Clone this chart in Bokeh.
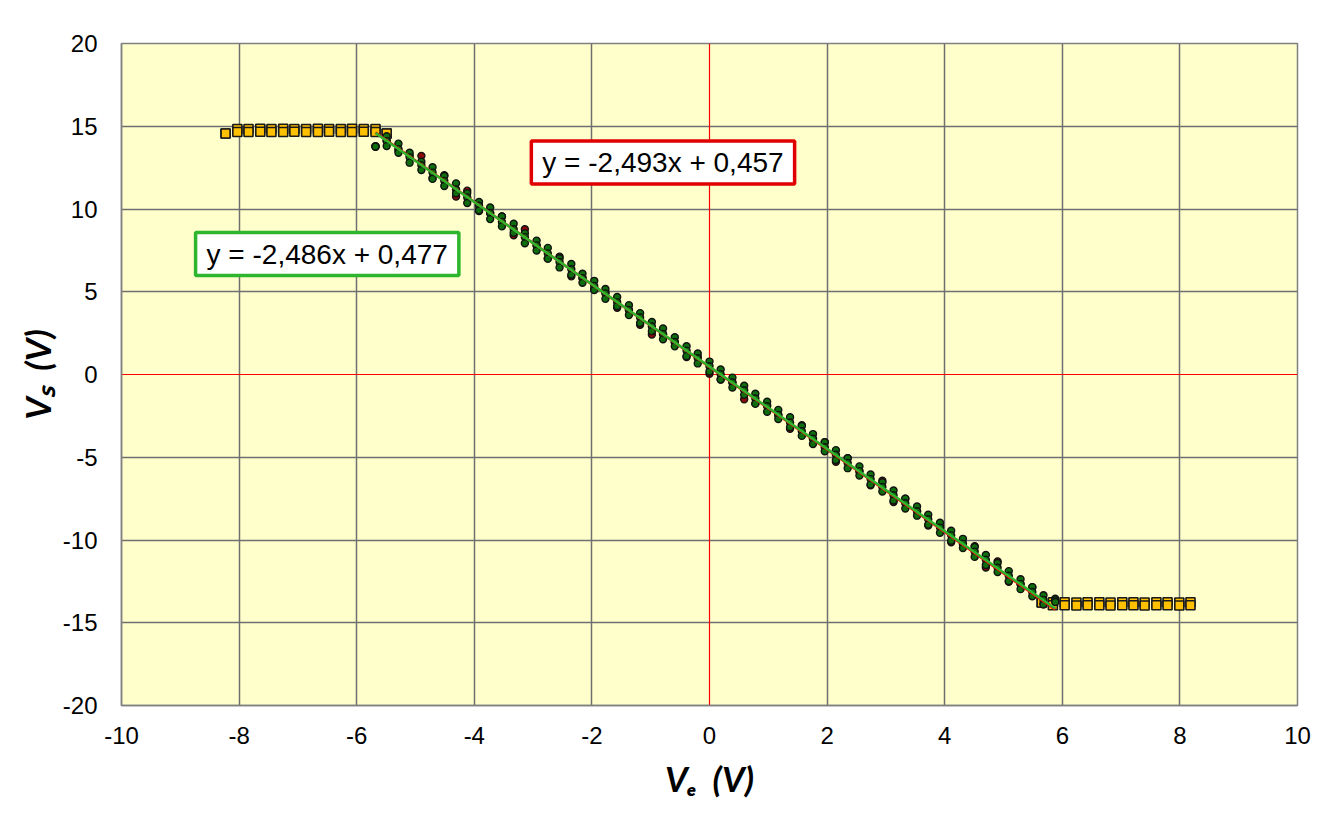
from bokeh.plotting import figure
from bokeh.models import Range1d, FixedTicker, Label, Span
from bokeh.embed import file_html
from bokeh.resources import INLINE

# ---------------- data ----------------
x_ticks = [-10, -8, -6, -4, -2, 0, 2, 4, 6, 8, 10]
y_ticks = [-20, -15, -10, -5, 0, 5, 10, 15, 20]
x_title = "V\u2091\u00a0\u00a0(V)"
y_title = "V\u209b\u00a0\u00a0(V)"

# saturated output (left, Vs ~ +14.7 V)
sat_left_x = [-8.23, -8.03, -7.84, -7.64, -7.45, -7.25, -7.06, -6.86, -6.66, -6.47, -6.27, -6.08, -5.88, -5.68, -5.49]
sat_left_y_a = [14.56, 14.83, 14.83, 14.85, 14.83, 14.85, 14.83, 14.83, 14.85, 14.83, 14.83, 14.85, 14.83, 14.83, 14.56]
sat_left_y_b = [14.56, 14.65, 14.65, 14.67, 14.65, 14.65, 14.67, 14.65, 14.65, 14.67, 14.65, 14.65, 14.67, 14.65, 14.56]

# saturated output (right, Vs ~ -13.9 V)
sat_right_x = [5.65, 5.84, 6.04, 6.24, 6.43, 6.63, 6.82, 7.02, 7.21, 7.40, 7.60, 7.79, 7.99, 8.18]
sat_right_y_a = [-13.78, -13.76, -13.76, -13.78, -13.76, -13.76, -13.78, -13.76, -13.76, -13.78, -13.76, -13.76, -13.78, -13.76]
sat_right_y_b = [-13.78, -13.94, -13.94, -13.96, -13.94, -13.94, -13.96, -13.94, -13.94, -13.96, -13.94, -13.94, -13.96, -13.94]

# linear region
lin_x = [-5.68, -5.49, -5.29, -5.10, -4.90, -4.71, -4.51, -4.31, -4.12, -3.92, -3.73, -3.53, -3.33, -3.14,
         -2.94, -2.75, -2.55, -2.35, -2.16, -1.96, -1.77, -1.57, -1.37, -1.18, -0.98, -0.79, -0.59, -0.39,
         -0.20, 0.00, 0.19, 0.39, 0.59, 0.78, 0.98, 1.17, 1.37, 1.57, 1.76, 1.96, 2.15, 2.35, 2.55, 2.74,
         2.94, 3.13, 3.33, 3.53, 3.72, 3.92, 4.11, 4.31, 4.51, 4.70, 4.90, 5.09, 5.29, 5.49, 5.68, 5.88]
green_hi = [13.78, 14.40, 13.95, 13.40, 12.86, 12.52, 11.99, 11.55, 10.96, 10.42, 10.09, 9.55, 9.11, 8.53,
            8.09, 7.65, 7.02, 6.68, 6.09, 5.66, 5.17, 4.68, 4.19, 3.71, 3.17, 2.78, 2.25, 1.71,
            1.27, 0.78, 0.30, -0.19, -0.68, -1.16, -1.65, -2.14, -2.58, -3.11, -3.60, -4.09, -4.57, -5.06,
            -5.55, -6.04, -6.52, -7.01, -7.50, -7.98, -8.47, -8.96, -9.44, -9.93, -10.42, -10.91, -11.39,
            -11.88, -12.37, -12.85, -13.34, -13.55]
green_mid = [13.78, 14.10, 13.62, 13.12, 12.64, 12.20, 11.70, 11.18, 10.70, 10.20, 9.76, 9.22, 8.78, 8.30,
             7.80, 7.32, 6.80, 6.36, 5.82, 5.35, 4.90, 4.36, 3.90, 3.44, 2.90, 2.45, 1.96, 1.44,
             0.98, 0.50, 0.02, -0.48, -0.95, -1.45, -1.92, -2.44, -2.90, -3.43, -3.88, -4.40, -4.85, -5.35,
             -5.84, -6.32, -6.80, -7.30, -7.78, -8.26, -8.75, -9.25, -9.72, -10.22, -10.70, -11.20, -11.68,
             -12.16, -12.65, -13.14, -13.62, -13.65]
green_lo = [13.78, 13.80, 13.40, 12.80, 12.36, 11.82, 11.39, 10.95, 10.36, 9.92, 9.39, 8.95, 8.56, 7.93,
            7.49, 7.00, 6.47, 6.03, 5.54, 5.11, 4.57, 4.13, 3.59, 3.11, 2.62, 2.13, 1.70, 1.11,
            0.67, 0.18, -0.30, -0.79, -1.23, -1.76, -2.25, -2.69, -3.18, -3.71, -4.20, -4.64, -5.17, -5.66,
            -6.10, -6.64, -7.07, -7.61, -8.10, -8.53, -9.07, -9.56, -10.04, -10.48, -11.02, -11.51, -11.94,
            -12.48, -12.97, -13.40, -13.90, -13.75]
red_pts = [13.78, 14.12, 13.53, 13.25, 13.21, 11.87, 12.04, 10.75, 11.11, 9.87, 9.74, 9.55, 8.41, 8.78,
           7.79, 7.00, 7.12, 5.93, 5.84, 5.16, 4.97, 4.03, 3.89, 3.01, 2.42, 2.43, 1.95, 1.06,
           1.07, 0.05, -0.30, -0.49, -1.50, -1.76, -1.85, -2.44, -3.28, -3.06, -3.90, -4.09, -5.27, -5.06,
           -5.85, -6.69, -6.42, -7.71, -7.50, -8.28, -9.12, -9.16, -10.14, -10.23, -10.37, -11.66, -11.29,
           -12.53, -12.67, -12.85, -13.84, -13.70]

# linear trend lines (coefficients from the chart labels)
fit_x = [-5.68, 5.88]
red_slope, red_icpt = -2.493, 0.457
green_slope, green_icpt = -2.486, 0.477
red_fit_y = [red_slope * v + red_icpt for v in fit_x]
green_fit_y = [green_slope * v + green_icpt for v in fit_x]

# ---------------- figure ----------------
p = figure(width=1324, height=801, output_backend="svg", toolbar_location=None,
           x_range=Range1d(-10, 10), y_range=Range1d(-20, 20),
           min_border_left=121, min_border_right=27, min_border_top=43, min_border_bottom=96)
p.background_fill_color = "#FFFFCC"
p.border_fill_color = "white"
p.outline_line_color = "#808080"
p.outline_line_width = 1.5

for ax, ticks in ((p.xaxis, x_ticks), (p.yaxis, y_ticks)):
    ax.ticker = FixedTicker(ticks=ticks)
    ax.major_label_overrides = {t: str(t) for t in ticks}
    ax.minor_tick_line_color = None
    ax.major_tick_in = 0
    ax.major_tick_out = 0
    ax.axis_line_color = "#808080"
    ax.axis_line_width = 1.5
    ax.major_label_text_font = "Liberation Sans"
    ax.major_label_text_font_size = "24px"
    ax.major_label_text_color = "black"
    ax.axis_label_text_font = "Lato"
    ax.axis_label_text_font_style = "bold italic"
    ax.axis_label_text_font_size = "35px"
    ax.axis_label_text_color = "black"
p.xaxis.major_label_standoff = 21
p.yaxis.major_label_standoff = 24
p.xaxis.axis_label = x_title
p.yaxis.axis_label = y_title
p.xaxis.axis_label_standoff = 10
p.yaxis.axis_label_standoff = 2

# grid lines (the zero lines are drawn in red below)
p.xgrid.ticker = FixedTicker(ticks=[t for t in x_ticks if t != 0])
p.ygrid.ticker = FixedTicker(ticks=[t for t in y_ticks if t != 0])
p.grid.grid_line_color = "#6F6F6F"
p.grid.grid_line_width = 1.5

p.add_layout(Span(location=0, dimension="height", line_color="#FF0000", line_width=1.2, level="underlay"))
p.add_layout(Span(location=0, dimension="width", line_color="#FF0000", line_width=1.2, level="underlay"))

# saturated squares
for xs, ys in ((sat_left_x, sat_left_y_a), (sat_left_x, sat_left_y_b),
               (sat_right_x, sat_right_y_a), (sat_right_x, sat_right_y_b)):
    p.scatter(x=xs, y=ys, marker="square", size=9, fill_color="#FFC000",
              line_color="#1A1A1A", line_width=1.6)

# linear region points
p.scatter(x=lin_x, y=red_pts, marker="circle", size=7, fill_color="#8B0A0A",
          line_color="#111111", line_width=1.4)
for ys in (green_hi, green_mid, green_lo):
    p.scatter(x=lin_x, y=ys, marker="circle", size=7, fill_color="#0E6E0E",
              line_color="#111111", line_width=1.4)

# trend lines
p.line(fit_x, red_fit_y, line_color="#FF0000", line_width=2.5)
p.line(fit_x, green_fit_y, line_color="#2EB52E", line_width=2.5)

# equation boxes
pad = dict(left=11, right=11, top=6, bottom=6)
p.add_layout(Label(x=-3.03, y=12.81, text="y = -2,493x + 0,457", text_font="Liberation Sans",
                   text_font_size="28px", text_color="black", text_align="left", text_baseline="middle",
                   background_fill_color="white", border_line_color="#E00000", border_line_width=3.5,
                   padding=pad))
p.add_layout(Label(x=-8.74, y=7.28, text="y = -2,486x + 0,477", text_font="Liberation Sans",
                   text_font_size="28px", text_color="black", text_align="left", text_baseline="middle",
                   background_fill_color="white", border_line_color="#2DB52D", border_line_width=3.5,
                   padding=pad))

open("out.html", "w").write(file_html(p, INLINE))
